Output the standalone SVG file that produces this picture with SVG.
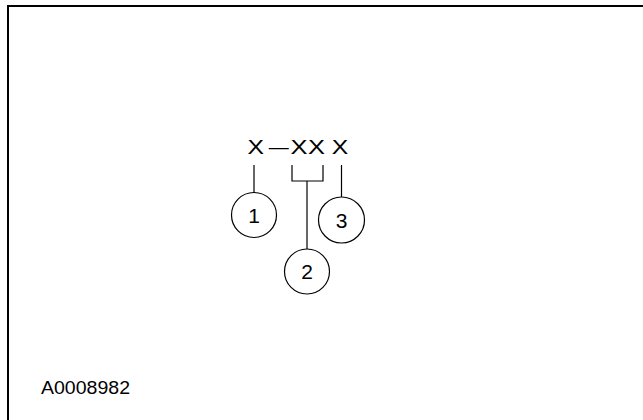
<svg xmlns="http://www.w3.org/2000/svg" width="643" height="420" viewBox="0 0 643 420">
<style>
.t{font-family:"Liberation Sans",Arial,sans-serif;fill:#000}
.x{font-size:20.5px}
.c{fill:#fff;stroke:#000;stroke-width:1.2}
.l{fill:none;stroke:#000;stroke-width:1.2}
</style>
<rect x="0" y="0" width="643" height="420" fill="#fff"/>
<path d="M8,430 V6 H660" fill="none" stroke="#000" stroke-width="2"/>
<g id="code">
<text class="t x" x="247.5" y="154.3" textLength="16.5" lengthAdjust="spacingAndGlyphs">X</text>
<text class="t x" x="268.7" y="154.3" textLength="20" lengthAdjust="spacingAndGlyphs">—</text>
<text class="t x" x="290.5" y="154.3" textLength="17" lengthAdjust="spacingAndGlyphs">X</text>
<text class="t x" x="308" y="154.3" textLength="17" lengthAdjust="spacingAndGlyphs">X</text>
<text class="t x" x="331.7" y="154.3" textLength="16.5" lengthAdjust="spacingAndGlyphs">X</text>
</g>
<g id="connectors">
<line class="l" x1="254" y1="165" x2="254" y2="193"/>
<path class="l" d="M292,165 V181 H323 V165"/>
<line class="l" x1="307" y1="181" x2="307" y2="249"/>
<line class="l" x1="341.5" y1="165" x2="341.5" y2="197"/>
</g>
<g id="n1">
<circle class="c" cx="254" cy="215" r="22.5"/>
<text class="t" font-size="21" x="254" y="222.5" text-anchor="middle">1</text>
</g>
<g id="n2">
<circle class="c" cx="307" cy="271.5" r="22.5"/>
<text class="t" font-size="21" x="307" y="279" text-anchor="middle">2</text>
</g>
<g id="n3">
<circle class="c" cx="341.5" cy="220" r="23"/>
<text class="t" font-size="21" x="341.5" y="227.5" text-anchor="middle">3</text>
</g>
<g id="label">
<text class="t" font-size="18.5" x="41" y="394" textLength="89" lengthAdjust="spacingAndGlyphs">A0008982</text>
</g>
</svg>
